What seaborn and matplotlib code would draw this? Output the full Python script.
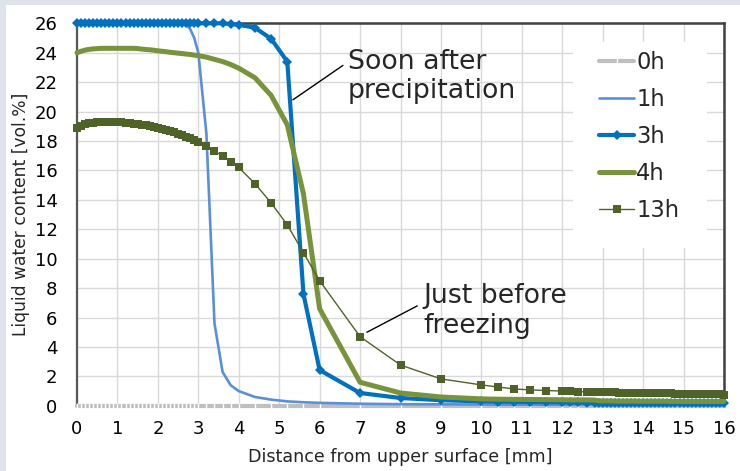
import matplotlib
matplotlib.use("Agg")
import matplotlib.pyplot as plt
import seaborn as sns
import pandas as pd
from matplotlib.patches import Rectangle

# ---------------- data ----------------
distance_mm = [
    0.0, 0.1, 0.2, 0.3, 0.4, 0.5, 0.6, 0.7, 0.8, 0.9, 1.0,
    1.1, 1.2, 1.3, 1.4, 1.5, 1.6, 1.7, 1.8, 1.9, 2.0,
    2.1, 2.2, 2.3, 2.4, 2.5, 2.6, 2.7, 2.8, 2.9, 3.0,
    3.2, 3.4, 3.6, 3.8, 4.0,
    4.4, 4.8, 5.2, 5.6,
    6.0, 7.0, 8.0, 9.0, 10.0,
    10.4, 10.8, 11.2, 11.6, 12.0,
    12.2, 12.4, 12.6, 12.8,
    12.9, 13.0, 13.1, 13.2, 13.3, 13.4, 13.5, 13.6, 13.7, 13.8, 13.9, 14.0,
    14.1, 14.2, 14.3, 14.4, 14.5, 14.6, 14.7, 14.8, 14.9, 15.0,
    15.1, 15.2, 15.3, 15.4, 15.5, 15.6, 15.7, 15.8, 15.9, 16.0,
]

wc_0h = [
    0, 0, 0, 0, 0, 0, 0, 0, 0, 0, 0,
    0, 0, 0, 0, 0, 0, 0, 0, 0, 0,
    0, 0, 0, 0, 0, 0, 0, 0, 0, 0,
    0, 0, 0, 0, 0,
    0, 0, 0, 0,
    0, 0, 0, 0, 0,
    0, 0, 0, 0, 0,
    0, 0, 0, 0,
    0, 0, 0, 0, 0, 0, 0, 0, 0, 0, 0, 0,
    0, 0, 0, 0, 0, 0, 0, 0, 0, 0,
    0, 0, 0, 0, 0, 0, 0, 0, 0, 0,
]

wc_1h = [
    26.0, 26.0, 26.0, 26.0, 26.0, 26.0, 26.0, 26.0, 26.0, 26.0, 26.0,
    26.0, 26.0, 26.0, 26.0, 26.0, 26.0, 26.0, 26.0, 26.0, 26.0,
    26.0, 26.0, 26.0, 26.0, 26.0, 26.0, 25.9, 25.6, 25.0, 24.0,
    18.5, 5.6, 2.3, 1.4, 1.0,
    0.6, 0.42, 0.3, 0.24,
    0.2, 0.14, 0.11, 0.1, 0.09,
    0.08, 0.08, 0.08, 0.07, 0.07,
    0.07, 0.07, 0.07, 0.07,
    0.06, 0.06, 0.06, 0.06, 0.06, 0.06, 0.06, 0.06, 0.06, 0.06, 0.06, 0.06,
    0.05, 0.05, 0.05, 0.05, 0.05, 0.05, 0.05, 0.05, 0.05, 0.05,
    0.05, 0.05, 0.05, 0.05, 0.05, 0.05, 0.05, 0.05, 0.05, 0.05,
]

wc_3h = [
    26.0, 26.0, 26.0, 26.0, 26.0, 26.0, 26.0, 26.0, 26.0, 26.0, 26.0,
    26.0, 26.0, 26.0, 26.0, 26.0, 26.0, 26.0, 26.0, 26.0, 26.0,
    26.0, 26.0, 26.0, 26.0, 26.0, 26.0, 26.0, 26.0, 26.0, 26.0,
    26.0, 26.0, 26.0, 25.95, 25.9,
    25.7, 24.95, 23.4, 7.6,
    2.43, 0.87, 0.53, 0.38, 0.3,
    0.28, 0.27, 0.26, 0.25, 0.24,
    0.23, 0.23, 0.22, 0.22,
    0.22, 0.22, 0.22, 0.22, 0.21, 0.21, 0.21, 0.21, 0.21, 0.21, 0.21, 0.21,
    0.21, 0.21, 0.2, 0.2, 0.2, 0.2, 0.2, 0.2, 0.2, 0.2,
    0.2, 0.2, 0.2, 0.2, 0.2, 0.2, 0.2, 0.2, 0.2, 0.2,
]

wc_4h = [
    24.0, 24.1, 24.18, 24.23, 24.26, 24.28, 24.3, 24.3, 24.3, 24.3, 24.3,
    24.3, 24.3, 24.3, 24.3, 24.28, 24.25, 24.22, 24.2, 24.17, 24.13,
    24.1, 24.07, 24.03, 24.0, 23.97, 23.94, 23.91, 23.88, 23.84, 23.8,
    23.7, 23.55, 23.4, 23.2, 22.95,
    22.3, 21.1, 19.1, 14.4,
    6.6, 1.6, 0.87, 0.6, 0.47,
    0.45, 0.44, 0.43, 0.42, 0.41,
    0.4, 0.4, 0.4, 0.39,
    0.34, 0.33, 0.33, 0.33, 0.32, 0.32, 0.32, 0.32, 0.32, 0.32, 0.31, 0.31,
    0.31, 0.31, 0.31, 0.31, 0.31, 0.31, 0.3, 0.3, 0.3, 0.3,
    0.3, 0.3, 0.3, 0.3, 0.3, 0.3, 0.3, 0.3, 0.3, 0.3,
]

wc_13h = [
    18.9, 19.05, 19.15, 19.2, 19.25, 19.28, 19.3, 19.3, 19.3, 19.3, 19.28,
    19.26, 19.24, 19.21, 19.18, 19.14, 19.1, 19.06, 19.01, 18.96, 18.9,
    18.83, 18.76, 18.68, 18.6, 18.5, 18.4, 18.3, 18.18, 18.05, 17.92,
    17.65, 17.3, 17.0, 16.6, 16.2,
    15.1, 13.8, 12.3, 10.4,
    8.5, 4.7, 2.77, 1.83, 1.42,
    1.28, 1.15, 1.08, 1.04, 1.0,
    0.98, 0.96, 0.95, 0.94,
    0.93, 0.92, 0.92, 0.91, 0.91, 0.9, 0.9, 0.89, 0.89, 0.88, 0.88, 0.87,
    0.87, 0.86, 0.86, 0.85, 0.85, 0.84, 0.84, 0.83, 0.83, 0.82,
    0.82, 0.81, 0.81, 0.8, 0.8, 0.79, 0.79, 0.78, 0.77, 0.76,
]

series_labels = ["0h", "1h", "3h", "4h", "13h"]
series_values = [wc_0h, wc_1h, wc_3h, wc_4h, wc_13h]

x_ticks = list(range(0, 17))
y_ticks = list(range(0, 27, 2))

x_label = "Distance from upper surface [mm]"
y_label = "Liquid water content [vol.%]"
note_wet = "Soon after\nprecipitation"
note_freeze = "Just before\nfreezing"

# ---------------- styles ----------------
styles = {
    "0h":  dict(color="#bfbfbf", lw=3.0, marker="|", markersize=4, mew=1.0),
    "1h":  dict(color="#5b8fd9", lw=1.9, marker=None),
    "3h":  dict(color="#0070c0", lw=3.0, marker="D", markersize=5.6, mew=0),
    "4h":  dict(color="#77933c", lw=3.6, marker=None),
    "13h": dict(color="#4f6228", lw=1.0, marker="s", markersize=5.8, mew=0),
}

frames = []
for lab, vals in zip(series_labels, series_values):
    frames.append(pd.DataFrame({"distance": distance_mm, "wc": vals, "series": lab}))
df = pd.concat(frames, ignore_index=True)

sns.set_style("white")
plt.rcParams["font.family"] = ["DejaVu Sans"]

W, H = 740, 471
fig = plt.figure(figsize=(W / 100, H / 100), dpi=100, facecolor="#dfe3eb")
fig.add_artist(Rectangle((6 / W, 0), 1 - 6 / W, 1 - 5 / H, transform=fig.transFigure,
                         facecolor="white", edgecolor="none", zorder=-10))

ax_l, ax_r, ax_t, ax_b = 77, 724, 23.3, 405.8
ax = fig.add_axes([ax_l / W, 1 - ax_b / H, (ax_r - ax_l) / W, (ax_b - ax_t) / H])
ax.set_facecolor("white")

for lab in series_labels:
    st = dict(styles[lab])
    sub = df[df["series"] == lab]
    sns.lineplot(data=sub, x="distance", y="wc", ax=ax, sort=False, estimator=None,
                 label=lab, clip_on=False, zorder=3, **st)

ax.set_xlim(0, 16)
ax.set_ylim(0, 26)
ax.set_xticks(x_ticks)
ax.set_yticks(y_ticks)
ax.set_axisbelow(True)
ax.grid(True, color="#d9d9d9", lw=1.0)

ax.tick_params(axis="both", which="major", labelsize=13, length=6, width=1,
               color="#8c8c8c", direction="out", labelcolor="black")
ax.tick_params(axis="x", pad=4)
ax.tick_params(axis="y", pad=8)

for side in ["top", "right"]:
    ax.spines[side].set_color("#404040")
    ax.spines[side].set_linewidth(1.8)
ax.spines["left"].set_color("#595959")
ax.spines["left"].set_linewidth(1.6)
ax.spines["bottom"].set_color("#a6a6a6")
ax.spines["bottom"].set_linewidth(1.0)

ax.set_xlabel(x_label, fontsize=12.6)
ax.set_ylabel(y_label, fontsize=12.3)
ax.xaxis.set_label_coords(0.5, (ax_b - 448) / (ax_b - ax_t))
ax.yaxis.set_label_coords((30 - ax_l) / (ax_r - ax_l), 0.5)

# white box behind the legend
pw, ph = ax_r - ax_l, ax_b - ax_t
ax.add_patch(Rectangle(((573 - ax_l) / pw, (ax_b - 248) / ph), (707 - 573) / pw, (248 - 42) / ph,
                       transform=ax.transAxes, facecolor="white", edgecolor="none", zorder=1.5))

handles, labels = ax.get_legend_handles_labels()
ax.legend(handles, labels, loc="upper left",
          bbox_to_anchor=((599 - ax_l) / pw, (ax_b - 51) / ph),
          frameon=False, fontsize=16.3, handlelength=1.55, handletextpad=0.1,
          labelspacing=0.62, borderpad=0, borderaxespad=0)

ax.annotate(note_wet, xy=(5.34, 20.8), xycoords="data",
            xytext=((348 - ax_l) / 40.44, (ax_b - 77) / 14.71), textcoords="data",
            fontsize=19.3, ha="left", va="center", linespacing=1.15,
            arrowprops=dict(arrowstyle="-", color="black", lw=1.0, shrinkA=0, shrinkB=0,
                            relpos=(-0.03, 0.71)), zorder=5)
ax.annotate(note_freeze, xy=(7.17, 5.0), xycoords="data",
            xytext=((423 - ax_l) / 40.44, (ax_b - 311.5) / 14.71), textcoords="data",
            fontsize=19.3, ha="left", va="center", linespacing=1.2,
            arrowprops=dict(arrowstyle="-", color="black", lw=1.0, shrinkA=0, shrinkB=0,
                            relpos=(-0.04, 0.6)), zorder=5)

fig.savefig("out.png", dpi=100, facecolor=fig.get_facecolor())
